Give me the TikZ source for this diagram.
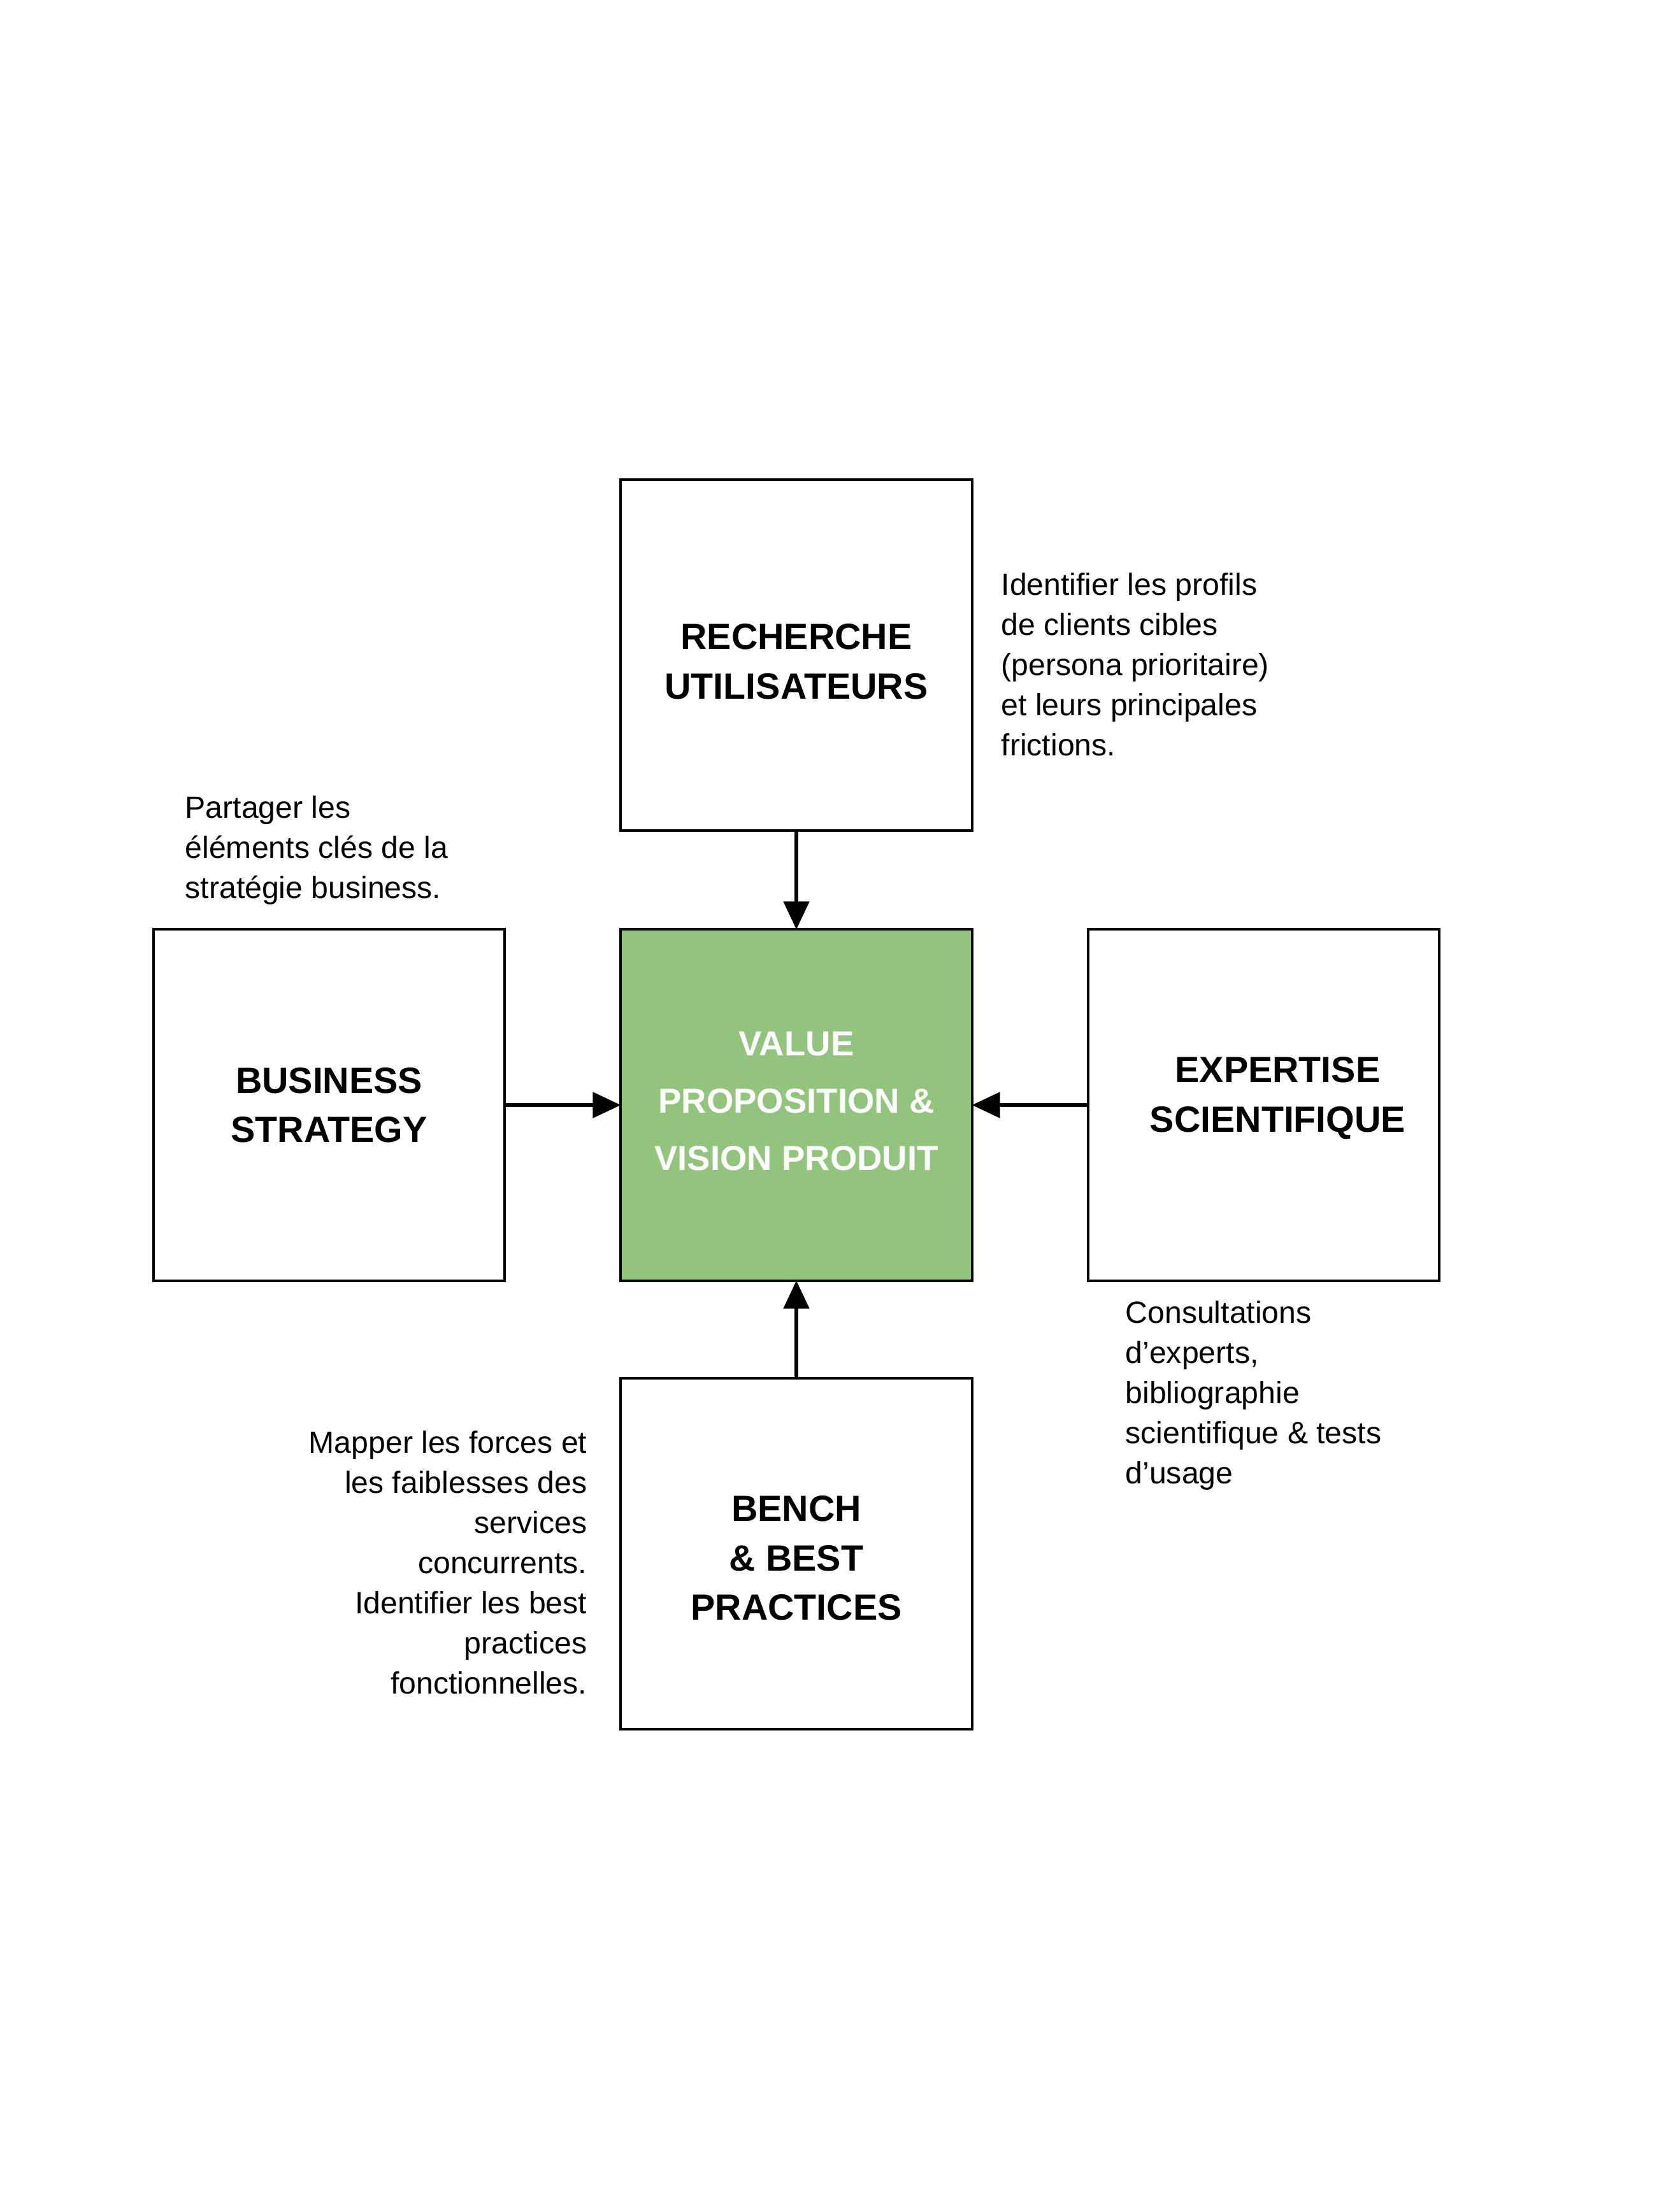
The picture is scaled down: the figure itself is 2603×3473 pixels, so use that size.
\documentclass[tikz,border=0pt]{standalone}
\usepackage{fontspec}
\setmainfont{Liberation Sans}
\usetikzlibrary{positioning,arrows.meta}

\begin{document}
\begin{tikzpicture}[x=0.01cm,y=-0.01cm,
  box/.style={draw,line width=1.2pt,minimum width=5.51cm,minimum height=5.51cm,
    inner sep=0pt,outer sep=0pt},
  title/.style={align=center,inner sep=0pt,font=\bfseries\fontsize{16.3}{22}\selectfont},
  note/.style={inner sep=0pt,font=\fontsize{13.7}{17.9}\selectfont},
  link/.style={line width=1.5pt,-{Triangle[width=0.4cm,length=0.44cm]}}]
  % colors
  \definecolor{vpGreen}{RGB}{147,196,125}
  \useasboundingbox (0,0) rectangle (2603,3473);
  % boxes
  \node[box,fill=vpGreen] (vp) at (1250,1735) {};
  \node[box,above=1.55cm of vp] (users) {};
  \node[box,left=1.82cm of vp] (business) {};
  \node[box,right=1.82cm of vp] (science) {};
  \node[box,below=1.53cm of vp] (bench) {};
  % titles
  \node[title,text=white,font=\bfseries\fontsize{15.5}{25.6}\selectfont] (vpTitle) at ([yshift=0.06cm]vp.center) {VALUE\\PROPOSITION \&\\VISION PRODUIT};
  \node[title] (usersTitle) at ([yshift=-0.1cm]users.center) {RECHERCHE\\UTILISATEURS};
  \node[title] (businessTitle) at (business.center) {BUSINESS\\STRATEGY};
  \node[title] (scienceTitle) at ([xshift=0.22cm,yshift=0.11cm]science.center) {EXPERTISE\\SCIENTIFIQUE};
  \node[title] (benchTitle) at ([yshift=-0.07cm]bench.center) {BENCH\\\& BEST\\PRACTICES};
  % arrows
  \draw[link] (users) -- (vp);
  \draw[link] (business) -- (vp);
  \draw[link] (science) -- (vp);
  \draw[link] (bench) -- (vp);
  % notes
  \node[note,anchor=north west,align=left] (usersNote) at (1571,899) {Identifier les profils\\de clients cibles\\(persona prioritaire)\\et leurs principales\\frictions.};
  \node[note,anchor=north west,align=left] (businessNote) at (290,1249) {Partager les\\éléments clés de la\\stratégie business.};
  \node[note,anchor=north west,align=left] (scienceNote) at (1766,2042) {Consultations\\d’experts,\\bibliographie\\scientifique \& tests\\d’usage};
  \node[note,anchor=north east,align=right] (benchNote) at (922,2246) {Mapper les forces et\\les faiblesses des\\services\\concurrents.\\Identifier les best\\practices\\fonctionnelles.};
\end{tikzpicture}
\end{document}
